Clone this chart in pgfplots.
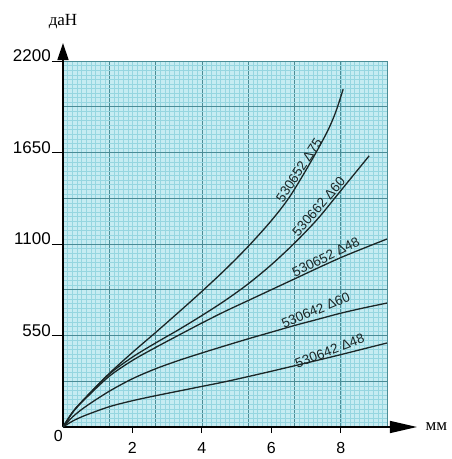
\documentclass[border=0pt]{standalone}
\usepackage{fontspec}
\setmainfont{Liberation Sans}
\newfontfamily\cyrserif{Liberation Serif}
\usepackage{pgfplots}
\pgfplotsset{compat=1.18}
\usetikzlibrary{arrows.meta}

\definecolor{paper}{HTML}{C6ECF2}
\definecolor{minorline}{HTML}{96D6E0}
\definecolor{majorline}{HTML}{4A8C96}
\definecolor{curve}{HTML}{1B2626}

\begin{document}
\begin{tikzpicture}
\path[use as bounding box] (-63pt,-32pt) rectangle (388pt,427pt);
\begin{axis}[
    at={(0pt,0pt)}, anchor=south west,
    scale only axis, width=324pt, height=366pt,
    xmin=0, xmax=9.33333, ymin=0, ymax=2200,
    clip=false,
    axis background/.style={fill=paper},
    axis lines=left,
    x axis line style={line width=1.4pt, -{Triangle[length=27pt,width=12pt]}, shorten >=-30pt},
    y axis line style={line width=1.4pt, -{Triangle[length=17pt,width=11pt]}, shorten >=-18pt},
    grid=both,
    major grid style={majorline, line width=0.7pt},
    minor grid style={minorline, line width=0.3pt},
    xtick={0,1.33333,2.66667,4,5.33333,6.66667,8,9.33333},
    minor xtick={0,0.133333,...,9.4},
    ytick={0,275,550,825,1100,1375,1650,1925,2200},
    minor y tick num=9,
    xticklabels={}, yticklabels={},
    major tick length=0pt, minor tick length=0pt,
    /pgf/number format/assume math mode=true,
    extra x ticks={2,4,6,8},
    extra x tick labels={2,4,6,8},
    extra x tick style={grid=none, major tick length=6pt, tick align=outside,
        tick style={black, line width=1pt},
        xticklabel style={font=\fontsize{16}{16}\selectfont, anchor=north, inner sep=0pt, yshift=-9pt}},
    extra y ticks={550,1100,1650,2200},
    extra y tick labels={550,1100,1650,2200},
    extra y tick style={grid=none, major tick length=11pt, tick align=outside,
        tick style={black, line width=1pt},
        yticklabel style={font=\fontsize{17}{17}\selectfont, anchor=south east, inner sep=0pt, xshift=-1pt, yshift=-1pt}},
    xlabel={\cyrserif мм},
    x label style={at={(axis description cs:1,0)}, anchor=base west, xshift=35pt, yshift=-3pt, font=\fontsize{17}{17}\selectfont},
    ylabel={\cyrserif даН},
    y label style={at={(axis description cs:0,1)}, anchor=base, rotate=-90, yshift=36pt, font=\fontsize{17}{17}\selectfont},
]
% 530652 D75
\addplot[curve, line width=1.3pt, smooth] coordinates {(0,0) (0.3,95) (0.667,180) (1.333,322) (2,448) (2.667,568) (3.333,690) (4,815) (4.667,945) (5.333,1085) (6,1240) (6.53,1384) (7.1,1580) (7.6,1770) (7.85,1890) (8.07,2030)};
% 530662 D60
\addplot[curve, line width=1.3pt, smooth] coordinates {(0,0) (0.3,95) (0.667,180) (1.333,318) (2,420) (2.667,505) (3.333,585) (4,670) (4.667,760) (5.333,860) (6,975) (6.667,1105) (7.333,1250) (8,1420) (8.82,1630)};
% 530652 D48
\addplot[curve, line width=1.3pt, smooth] coordinates {(0,0) (0.3,95) (0.667,175) (1.333,305) (2,400) (2.667,478) (3.333,552) (4,625) (4.667,695) (5.333,760) (6,825) (6.667,890) (7.333,955) (8,1018) (8.667,1075) (9.333,1130)};
% 530642 D60
\addplot[curve, line width=1.3pt, smooth] coordinates {(0,0) (0.3,65) (0.667,125) (1.333,215) (2,290) (2.667,350) (3.333,400) (4,445) (4.667,488) (5.333,530) (6,570) (6.667,610) (7.333,647) (8,684) (8.667,716) (9.333,745)};
% 530642 D48
\addplot[curve, line width=1.3pt, smooth] coordinates {(0,0) (0.3,38) (0.667,72) (1.333,122) (2,158) (2.667,188) (3.333,216) (4,244) (4.667,272) (5.333,303) (6,335) (6.667,368) (7.333,401) (8,435) (8.667,470) (9.333,505)};

\node[font=\fontsize{16}{16}\selectfont, anchor=north east, inner sep=0pt] at (axis cs:0,0) [yshift=-3pt] {0};
\tikzset{curvelabel/.style={font=\fontsize{13.5}{13.5}\selectfont, anchor=south, inner sep=1.2pt, text=curve}}
\node[curvelabel, rotate=57] at (axis cs:6.95,1525) {530652 Δ75};
\node[curvelabel, rotate=49] at (axis cs:7.50,1300) {530662 Δ60};
\node[curvelabel, rotate=26] at (axis cs:7.65,988) {530652 Δ48};
\node[curvelabel, rotate=23] at (axis cs:7.35,668) {530642 Δ60};
\node[curvelabel, rotate=21] at (axis cs:7.75,424) {530642 Δ48};
\end{axis}
\end{tikzpicture}
\end{document}
